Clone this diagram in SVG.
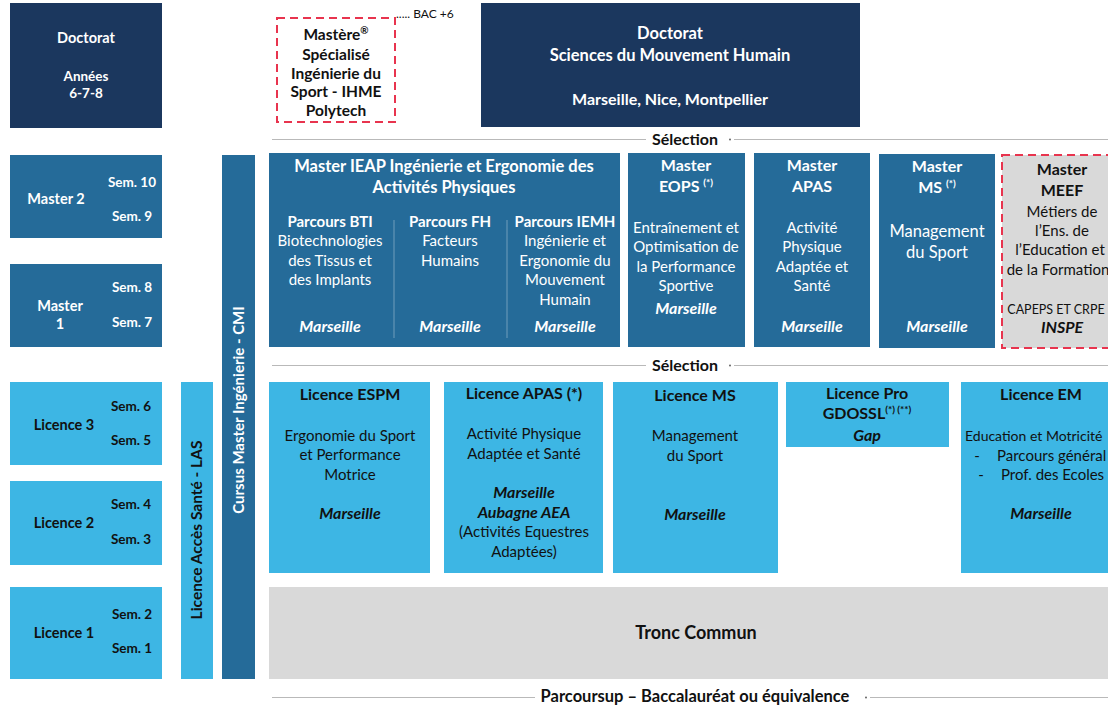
<svg xmlns="http://www.w3.org/2000/svg" width="1108" height="705" viewBox="0 0 1108 705">
<style>
text{font-family:Lato,"Open Sans","Liberation Sans",sans-serif;text-anchor:middle}
.navy{fill:#1b375e}
.mid{fill:#256b99}
.light{fill:#3db6e4}
.gray{fill:#d9d9d9}
.w{fill:#ffffff}
.k{fill:#111111}
.b{font-weight:bold}
.i{font-style:italic;font-weight:bold;font-size:16px}
.t{font-size:16px;font-weight:bold}
.tl{font-size:14.5px;font-weight:bold}
.r{font-size:15px}
.s{font-size:13.5px;font-weight:bold}
.sup{font-size:10px}
.dash{fill:none;stroke:#e8344e;stroke-width:2;stroke-dasharray:8 5}
.sep{stroke:#b9b9b9;stroke-width:1}
.vsep{stroke:#ffffff;stroke-opacity:0.35;stroke-width:1}
</style>

<g id="doctorat-annees">
<rect x="10" y="3" width="152" height="125" class="navy"/>
<text x="86" y="43" class="tl w">Doctorat</text>
<text x="86" y="81" class="s w">Années</text>
<text x="86" y="98" class="s w">6-7-8</text>
</g>

<g id="master2">
<rect x="10" y="155" width="152" height="83" class="mid"/>
<text x="56" y="204" class="tl w">Master 2</text>
<text x="132" y="187" class="s w">Sem. 10</text>
<text x="132" y="221" class="s w">Sem. 9</text>
</g>

<g id="master1">
<rect x="10" y="264" width="152" height="83" class="mid"/>
<text x="60" y="311" class="tl w">Master</text>
<text x="60" y="329" class="tl w">1</text>
<text x="132" y="292" class="s w">Sem. 8</text>
<text x="132" y="327" class="s w">Sem. 7</text>
</g>

<g id="licence3">
<rect x="10" y="382" width="152" height="83" class="light"/>
<text x="64" y="430" class="tl k">Licence 3</text>
<text x="131" y="411" class="s k">Sem. 6</text>
<text x="131" y="445" class="s k">Sem. 5</text>
</g>

<g id="licence2">
<rect x="10" y="481" width="152" height="84" class="light"/>
<text x="64" y="528" class="tl k">Licence 2</text>
<text x="131" y="509" class="s k">Sem. 4</text>
<text x="131" y="544" class="s k">Sem. 3</text>
</g>

<g id="licence1">
<rect x="10" y="587" width="152" height="92" class="light"/>
<text x="64" y="638" class="tl k">Licence 1</text>
<text x="132" y="619" class="s k">Sem. 2</text>
<text x="132" y="653" class="s k">Sem. 1</text>
</g>

<g id="las">
<rect x="181" y="382" width="32" height="297" class="light"/>
<text transform="translate(202,530) rotate(-90)" class="k b" style="font-size:15.5px">Licence Accès Santé - LAS</text>
</g>

<g id="cmi">
<rect x="222" y="155" width="33" height="524" class="mid"/>
<text transform="translate(244,410) rotate(-90)" class="w b" style="font-size:15px">Cursus Master Ingénierie - CMI</text>
</g>

<g id="mastere-ihme">
<rect x="277" y="18" width="118" height="104" class="dash"/>
<text x="336" y="40" class="k b" style="font-size:15.5px">Mastère<tspan dy="-6" class="sup">®</tspan></text>
<text x="336" y="60" class="k b" style="font-size:15.5px">Spécialisé</text>
<text x="336" y="79" class="k b" style="font-size:15.5px">Ingénierie du</text>
<text x="336" y="97" class="k b" style="font-size:15.5px">Sport - IHME</text>
<text x="336" y="116" class="k b" style="font-size:15.5px">Polytech</text>
<text x="396" y="18" style="font-size:12px;text-anchor:start" class="k">..... BAC +6</text>
</g>

<g id="doctorat-smh">
<rect x="481" y="3" width="379" height="124" class="navy"/>
<text x="670" y="39" class="w b" style="font-size:16.5px">Doctorat</text>
<text x="670" y="61" class="w b" style="font-size:16.5px">Sciences du Mouvement Humain</text>
<text x="670" y="105" class="w b" style="font-size:16px">Marseille, Nice, Montpellier</text>
</g>

<g id="master-ieap">
<rect x="269" y="153" width="351" height="194" class="mid"/>
<text x="444" y="172" class="w b" style="font-size:16.5px">Master IEAP Ingénierie et Ergonomie des</text>
<text x="444" y="193" class="w b" style="font-size:16.5px">Activités Physiques</text>
<line x1="394" y1="220" x2="394" y2="338" class="vsep"/>
<line x1="507" y1="220" x2="507" y2="338" class="vsep"/>
<text x="330" y="227" class="w b" style="font-size:15px">Parcours BTI</text>
<text x="330" y="246" class="w r">Biotechnologies</text>
<text x="330" y="266" class="w r">des Tissus et</text>
<text x="330" y="285" class="w r">des Implants</text>
<text x="330" y="332" class="w i">Marseille</text>
<text x="450" y="227" class="w b" style="font-size:15px">Parcours FH</text>
<text x="450" y="246" class="w r">Facteurs</text>
<text x="450" y="266" class="w r">Humains</text>
<text x="450" y="332" class="w i">Marseille</text>
<text x="565" y="227" class="w b" style="font-size:15px">Parcours IEMH</text>
<text x="565" y="246" class="w r">Ingénierie et</text>
<text x="565" y="266" class="w r">Ergonomie du</text>
<text x="565" y="285" class="w r">Mouvement</text>
<text x="565" y="305" class="w r">Humain</text>
<text x="565" y="332" class="w i">Marseille</text>
</g>

<g id="master-eops">
<rect x="628" y="153" width="117" height="194" class="mid"/>
<text x="686" y="171" class="t w">Master</text>
<text x="686" y="192" class="t w">EOPS <tspan dy="-6" class="sup">(*)</tspan></text>
<text x="686" y="233" class="w r">Entraînement et</text>
<text x="686" y="252" class="w r">Optimisation de</text>
<text x="686" y="272" class="w r">la Performance</text>
<text x="686" y="291" class="w r">Sportive</text>
<text x="686" y="314" class="w i">Marseille</text>
</g>

<g id="master-apas">
<rect x="754" y="153" width="116" height="194" class="mid"/>
<text x="812" y="171" class="t w">Master</text>
<text x="812" y="192" class="t w">APAS</text>
<text x="812" y="233" class="w r">Activité</text>
<text x="812" y="252" class="w r">Physique</text>
<text x="812" y="272" class="w r">Adaptée et</text>
<text x="812" y="291" class="w r">Santé</text>
<text x="812" y="332" class="w i">Marseille</text>
</g>

<g id="master-ms">
<rect x="879" y="154" width="116" height="194" class="mid"/>
<text x="937" y="172" class="t w">Master</text>
<text x="937" y="193" class="t w">MS <tspan dy="-6" class="sup">(*)</tspan></text>
<text x="937" y="237" class="w" style="font-size:16.5px">Management</text>
<text x="937" y="258" class="w" style="font-size:16.5px">du Sport</text>
<text x="937" y="332" class="w i">Marseille</text>
</g>

<g id="master-meef">
<rect x="1002" y="155" width="120" height="193" class="gray"/>
<rect x="1002" y="155" width="120" height="193" class="dash"/>
<text x="1062" y="175" class="t k">Master</text>
<text x="1062" y="196" class="t k">MEEF</text>
<text x="1062" y="217" class="k r">Métiers de</text>
<text x="1062" y="236" class="k r">l’Ens. de</text>
<text x="1060" y="255" class="k r">l’Education et</text>
<text x="1058" y="275" class="k r">de la Formation</text>
<text x="1056" y="314" class="k" style="font-size:12.5px">CAPEPS ET CRPE</text>
<text x="1062" y="333" class="k i">INSPE</text>
</g>

<g id="licence-espm">
<rect x="269" y="382" width="161" height="191" class="light"/>
<text x="350" y="400" class="t k">Licence ESPM</text>
<text x="350" y="441" class="k r">Ergonomie du Sport</text>
<text x="350" y="460" class="k r">et Performance</text>
<text x="350" y="480" class="k r">Motrice</text>
<text x="350" y="519" class="k i">Marseille</text>
</g>

<g id="licence-apas">
<rect x="444" y="382" width="159" height="191" class="light"/>
<text x="524" y="399" class="t k">Licence APAS (*)</text>
<text x="524" y="439" class="k r">Activité Physique</text>
<text x="524" y="459" class="k r">Adaptée et Santé</text>
<text x="524" y="498" class="k i">Marseille</text>
<text x="524" y="518" class="k i">Aubagne AEA</text>
<text x="524" y="537" class="k r">(Activités Equestres</text>
<text x="524" y="557" class="k r">Adaptées)</text>
</g>

<g id="licence-ms">
<rect x="613" y="382" width="165" height="191" class="light"/>
<text x="695" y="401" class="t k">Licence MS</text>
<text x="695" y="441" class="k r">Management</text>
<text x="695" y="461" class="k r">du Sport</text>
<text x="695" y="520" class="k i">Marseille</text>
</g>

<g id="licence-pro">
<rect x="786" y="382" width="163" height="65" class="light"/>
<text x="867" y="399" class="t k">Licence Pro</text>
<text x="867" y="419" class="t k">GDOSSL<tspan dy="-6" class="sup">(*) (**)</tspan></text>
<text x="867" y="441" class="k i">Gap</text>
</g>

<g id="licence-em">
<rect x="961" y="382" width="160" height="191" class="light"/>
<text x="1041" y="400" class="t k">Licence EM</text>
<text x="965" y="441" class="k" style="text-anchor:start;font-size:14px">Education et Motricité</text>
<text x="977" y="461" class="k r">-</text>
<text x="997" y="461" class="k r" style="text-anchor:start">Parcours général</text>
<text x="981" y="480" class="k r">-</text>
<text x="1001" y="480" class="k r" style="text-anchor:start">Prof. des Ecoles</text>
<text x="1041" y="519" class="k i">Marseille</text>
</g>

<g id="tronc-commun">
<rect x="269" y="587" width="850" height="92" class="gray"/>
<text x="696" y="639" class="k b" style="font-size:18px">Tronc Commun</text>
</g>

<g id="connectors">
<line x1="272" y1="139.5" x2="646" y2="139.5" class="sep"/>
<line x1="734" y1="139.5" x2="1108" y2="139.5" class="sep"/>
<text x="685" y="145" class="t k">Sélection</text>
<circle cx="730" cy="139.5" r="0.9" fill="#555"/>
<line x1="272" y1="365.5" x2="646" y2="365.5" class="sep"/>
<line x1="734" y1="365.5" x2="1108" y2="365.5" class="sep"/>
<text x="685" y="371" class="t k">Sélection</text>
<circle cx="730" cy="365.5" r="0.9" fill="#555"/>
<line x1="272" y1="697.5" x2="535" y2="697.5" class="sep"/>
<line x1="870" y1="697.5" x2="1108" y2="697.5" class="sep"/>
<text x="695" y="701.5" class="k b" style="font-size:16.5px">Parcoursup – Baccalauréat ou équivalence</text>
<circle cx="866" cy="697.5" r="0.9" fill="#555"/>
</g>
</svg>
